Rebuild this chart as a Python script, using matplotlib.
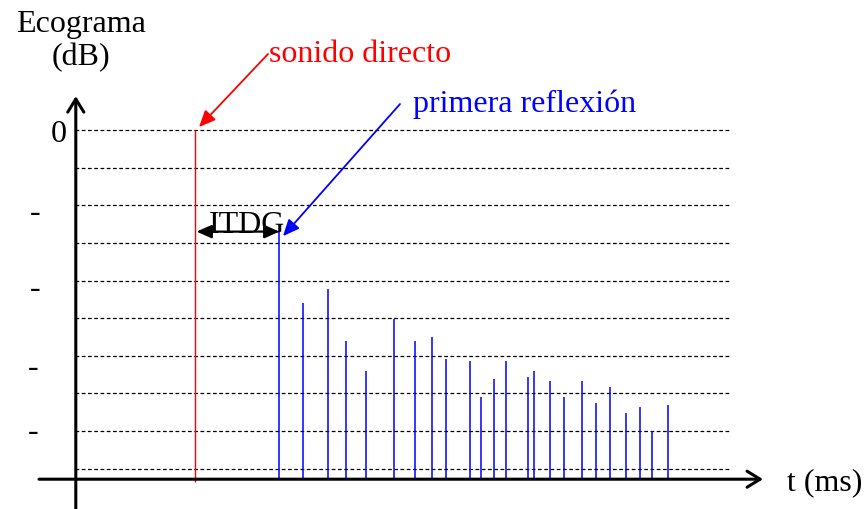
import matplotlib
matplotlib.use("Agg")
import matplotlib.pyplot as plt

# Echogram values: time (ms) and level (dB)
DIRECT_T = 30.1
DIRECT_DB = 0.0

REFL_T = [51.1, 57.1, 63.2, 67.7, 72.7, 79.7, 85.1, 89.2, 92.7, 98.7,
          101.6, 104.7, 107.7, 113.2, 114.7, 118.7, 122.2, 126.7, 130.2,
          133.7, 137.7, 141.2, 144.25, 148.25]
REFL_DB = [-13.5, -23.0, -21.1, -28.0, -32.0, -25.1, -28.0, -27.5, -30.4,
           -30.7, -35.5, -33.1, -30.7, -32.8, -32.0, -33.3, -35.5, -33.3,
           -36.3, -34.1, -37.6, -36.8, -40.0, -36.5]

GRID_DB = [0, -5, -10, -15, -20, -25, -30, -35, -40, -45]
TICK_LABELS = ["0", "-", "-", "-", "-"]
TICK_DB = [-0.5, -10.9, -21.0, -31.6, -40.0]
TICK_T = [-4.1, -9.9, -10.0, -10.5, -10.5]

BASE_DB = -46.4   # level of the time axis
FONT = "Liberation Serif"
FS = 23


def main():
    fig = plt.figure(figsize=(8.64, 5.10), dpi=100)
    ax = fig.add_axes([0, 0, 1, 1])
    ax.set_xlim(-18.75, 197.25)
    ax.set_ylim(-50.36, 17.41)
    ax.axis("off")

    # dashed reference levels
    ax.hlines(GRID_DB, 0, 163.5, colors="black", linestyles=(0, (3, 2)), lw=0.9)

    # direct sound and reflections
    ax.vlines(DIRECT_T, BASE_DB - 0.4, DIRECT_DB, colors="#ff0000", lw=1.0)
    ax.vlines(REFL_T, BASE_DB, REFL_DB, colors="#0000ff", lw=1.1)

    # axes with open arrow heads
    axis_arrow = dict(arrowstyle="->,head_length=0.47,head_width=0.29",
                      lw=2.2, color="black", mutation_scale=20,
                      shrinkA=0, shrinkB=0)
    ax.annotate("", xy=(0.2, 4.5), xytext=(0.2, -50.4), arrowprops=axis_arrow)
    ax.annotate("", xy=(172, BASE_DB), xytext=(-9, BASE_DB), arrowprops=axis_arrow)

    # labels
    ax.text(1.4, 13.15, "Ecograma", fontsize=FS, family=FONT, ha="center", va="baseline")
    ax.text(1.4, 8.77, "(dB)", fontsize=FS, family=FONT, ha="center", va="baseline")
    ax.text(178, -47.7, "t (ms)", fontsize=FS, family=FONT, ha="left", va="baseline")
    for t, db, lab in zip(TICK_T, TICK_DB, TICK_LABELS):
        ax.text(t, db, lab, fontsize=FS, family=FONT, ha="center", va="center")

    # annotations
    ax.text(48.5, 9.17, "sonido directo", fontsize=FS, family=FONT, color="#ff0000",
            ha="left", va="baseline")
    ax.annotate("", xy=(31.0, 0.4), xytext=(48.25, 10.1),
                arrowprops=dict(arrowstyle="-|>,head_length=0.5,head_width=0.22",
                                color="#ff0000", lw=1.3, mutation_scale=20,
                                shrinkA=0, shrinkB=0))
    ax.text(84.5, 2.52, "primera reflexión", fontsize=FS, family=FONT, color="#0000ff",
            ha="left", va="baseline")
    ax.annotate("", xy=(52.0, -14.1), xytext=(81.25, 3.45),
                arrowprops=dict(arrowstyle="-|>,head_length=0.5,head_width=0.22",
                                color="#0000ff", lw=1.3, mutation_scale=20,
                                shrinkA=0, shrinkB=0))

    ax.text(43.0, -13.55, "ITDG", fontsize=FS, family=FONT, ha="center", va="baseline")
    ax.annotate("", xy=(REFL_T[0], -13.5), xytext=(DIRECT_T + 0.3, -13.5),
                arrowprops=dict(arrowstyle="<|-|>,head_length=0.45,head_width=0.2",
                                color="black", lw=1.6, mutation_scale=20,
                                shrinkA=0, shrinkB=0))

    fig.savefig("out.png", dpi=100)


if __name__ == "__main__":
    main()
